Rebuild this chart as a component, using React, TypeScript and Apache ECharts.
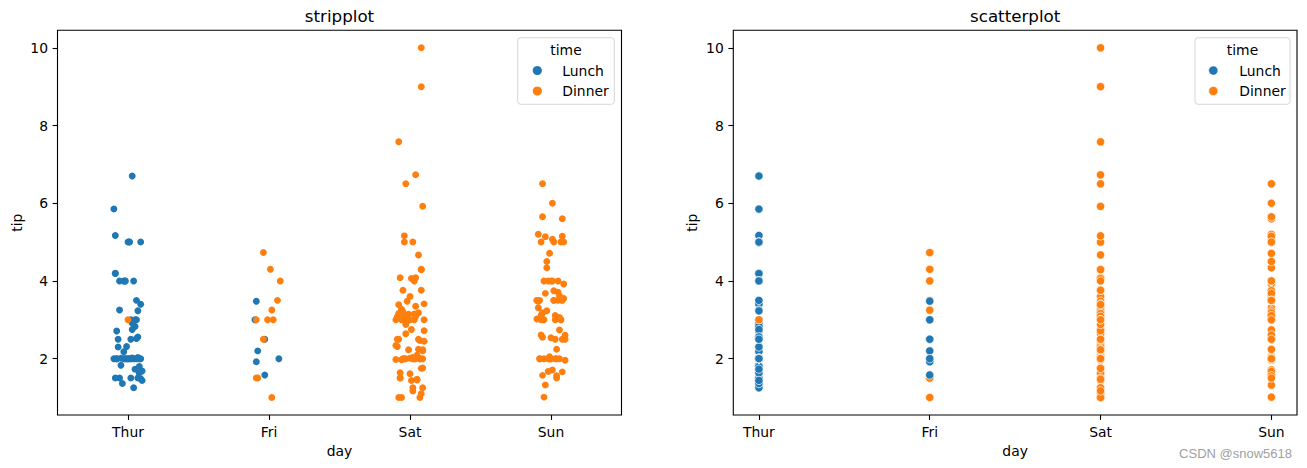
import React, { useEffect, useRef } from "react";
import * as echarts from "echarts";

const DAYS = ["Thur", "Fri", "Sat", "Sun"];
const Y_TICKS = [2, 4, 6, 8, 10];
const BLUE = "#1f77b4";
const ORANGE = "#ff7f0e";

// tip values (seaborn "tips" dataset) grouped by day and time
const thurLunch = [
  4.0, 3.0, 2.71, 3.0, 3.4, 1.83, 5.0, 2.03, 5.17, 2.0, 4.0, 5.85, 3.0,
  1.5, 1.8, 2.92, 2.31, 1.68, 2.5, 2.0, 2.52, 4.2, 1.48, 2.0, 2.0, 2.18, 1.5, 2.83, 1.5, 2.0, 3.25, 1.25,
  2.0, 2.0, 2.0, 2.75, 3.5, 6.7, 5.0, 5.0, 2.3, 1.5, 1.36, 1.63, 1.73, 2.0,
  4.19, 2.56, 2.02, 4.0, 1.44, 2.0, 5.0, 2.0, 2.0, 4.0, 2.01, 2.0, 2.5, 4.0, 3.23,
];
const thurDinner = [3.0];
const friDinner = [3.0, 3.5, 1.0, 4.3, 3.25, 4.73, 4.0, 1.5, 3.0, 1.5, 2.5, 3.0];
const friLunch = [2.2, 3.48, 1.92, 3.0, 1.58, 2.5, 2.0];
const satDinner = [
  3.35, 4.08, 2.75, 2.23, 7.58, 3.18, 2.34, 2.0, 2.0, 4.3, 3.0, 1.45, 2.5, 3.0, 2.45, 3.27, 3.6, 2.0, 3.07, 2.31, 5.0, 2.24,
  3.0, 1.5, 1.76, 6.73, 3.21, 2.0, 1.98, 3.76, 2.64, 3.15, 2.47, 1.0, 2.01, 2.09, 1.97, 3.0, 3.14, 5.0, 2.2, 1.25, 3.08,
  2.5, 3.48, 4.08, 1.64, 4.06, 4.29, 3.76, 4.0, 3.0, 1.0,
  1.61, 2.0, 10.0, 3.16,
  3.41, 3.0, 2.03, 2.23, 2.0, 5.16, 9.0, 2.5, 6.5, 1.1, 3.0, 1.5, 1.44, 3.09,
  3.0, 2.72, 2.88, 2.0, 3.0, 3.39, 1.47, 3.0, 1.25, 1.0, 1.17, 4.67, 5.92, 2.0, 2.0, 1.75,
];
const sunDinner = [
  1.01, 1.66, 3.5, 3.31, 3.61, 4.71, 2.0, 3.12, 1.96, 3.23, 1.71, 5.0, 1.57, 3.0, 3.02, 3.92, 1.67, 3.71, 3.5,
  2.54, 3.06, 1.32, 5.6, 3.0, 5.0, 6.0, 2.05, 3.0, 2.5, 2.6, 5.2, 1.56, 4.34, 3.51,
  4.0, 2.55, 4.0, 3.5, 5.07,
  2.5, 2.0, 2.74, 2.0, 2.0, 5.14, 5.0, 3.75, 2.61, 2.0, 3.5, 2.5, 2.0, 2.0, 3.0, 3.48, 2.24, 4.5,
  5.15, 3.18, 4.0, 3.11, 2.0, 2.0, 4.0, 3.55, 3.68, 5.65, 3.5, 6.5, 3.0, 5.0, 3.5, 2.0, 3.5, 4.0, 1.5,
];

// strip-plot horizontal jitter, in hundredths of a category width
const thurLunchJit = [
  -3, 6, -8, 2, 9, -5, 1, 7, -9, 4, -2, -10, 5, -6, 8, 3, -1, 10, -7, 0,
  6, -9, 9, -8, 2, -3, 7, 5, -9, 1, -6, 4, 8, -2, -10, 3, 6, 3, 9, 0,
  -7, 2, -4, 8, 5, -1, -9, 7, 3, -6, 10, -3, 1, 6, -8, 4, -5, 9, 2, -2, 7,
];
const thurDinnerJit = [0];
const friDinnerJit = [-9, 6, 2, 1, 2, -4, 8, -8, -1, -9, -4, 3];
const friLunchJit = [-8, -9, -9, -10, -3, -3, 7];
const satDinnerJit = [
  4, -7, 1, 9, -8, 6, -10, 2, -5, 8, -1, 5, -8, 3, 10, -6, 0, 7, -4, -9,
  2, 6, -2, -7, 9, 4, -5, 4, -10, 8, -3, 3, 7, -8, 0, 5, -6, 10, -1, -4,
  9, 2, -9, 6, -2, 4, -7, 1, 8, -5, 3, -10, 7, 0, -3, 8, -8, 10, -6, 2,
  -1, 9, -4, 8, -9, -3, 8, -2, -7, 1, 4, -5, 10, -3, 7, 0, -8, 5, -1, 9,
  -6, 2, 6, 9, 3, -4, 8,
];
const sunDinnerJit = [
  -5, 8, 2, -9, 6, -1, 4, -7, 10, -3, 1, 7, -6, 3, -10, 9, -2, 5, -8, 0,
  6, -4, 8, -7, 2, 1, -1, -5, 3, 10, -9, 4, -3, 7, 0, -6, 5, -10, 1, 8,
  -2, 6, -8, 3, -4, 9, 2, -7, -1, 5, 10, -5, 0, 7, -9, 4, -3, 8, -6, 1,
  3, -8, 6, -2, 9, -4, -6, -10, -6, 7, -7, 2, -1, 8, -5, 4,
];

const FONT = "DejaVu Sans";

function strip(day: number, tips: number[], jit: number[]) {
  return tips.map((t, i) => [day + jit[i] / 100, t]);
}
function column(day: number, tips: number[]) {
  return tips.map((t) => [day, t]);
}

const GRIDS = [
  { left: 57.5, top: 30.3, width: 564, height: 384.7 },
  { left: 733.3, top: 30.3, width: 563.7, height: 384.7 },
];

function xAxisFor(idx: number, min: number, max: number) {
  return {
    type: "value",
    gridIndex: idx,
    min,
    max,
    name: "day",
    nameLocation: "middle",
    nameGap: 29,
    nameTextStyle: { fontFamily: FONT, fontSize: 13.9, color: "#000" },
    axisLine: { show: false, onZero: false },
    splitLine: { show: false },
    axisTick: { show: true, length: 4.9, lineStyle: { color: "#000", width: 1.1 }, customValues: [0, 1, 2, 3] },
    axisLabel: {
      show: true,
      margin: 9.5,
      customValues: [0, 1, 2, 3],
      formatter: (v: number) => DAYS[Math.round(v)] ?? "",
      fontFamily: FONT,
      fontSize: 13.9,
      color: "#000",
    },
  };
}
function yAxisFor(idx: number) {
  return {
    type: "value",
    gridIndex: idx,
    min: 0.55,
    max: 10.45,
    name: "tip",
    nameLocation: "middle",
    nameGap: 34,
    nameRotate: 90,
    nameTextStyle: { fontFamily: FONT, fontSize: 13.9, color: "#000" },
    axisLine: { show: false, onZero: false },
    splitLine: { show: false },
    axisTick: { show: true, length: 4.9, lineStyle: { color: "#000", width: 1.1 }, customValues: Y_TICKS },
    axisLabel: {
      show: true,
      margin: 9.5,
      customValues: Y_TICKS,
      fontFamily: FONT,
      fontSize: 13.9,
      color: "#000",
    },
  };
}

function legendGraphics(boxX: number, boxW: number, markerX: number, textX: number, withEdge: boolean) {
  const top = 37.7;
  const h = 66.6;
  const items: any[] = [
    {
      type: "rect",
      shape: { x: boxX, y: top, width: boxW, height: h, r: 3 },
      style: { fill: "rgba(255,255,255,0.8)", stroke: "rgba(204,204,204,0.8)", lineWidth: 1 },
      z: 100,
    },
    {
      type: "text",
      x: boxX + boxW / 2,
      y: 49.5,
      style: { text: "time", fontFamily: FONT, fontSize: 13.9, fill: "#000", align: "center", verticalAlign: "middle" },
      z: 101,
    },
  ];
  const rows = [
    { label: "Lunch", color: BLUE, y: 70.5 },
    { label: "Dinner", color: ORANGE, y: 91 },
  ];
  rows.forEach((r) => {
    items.push({
      type: "circle",
      shape: { cx: markerX, cy: r.y, r: 4.6 },
      style: { fill: r.color, stroke: withEdge ? "#fff" : r.color, lineWidth: withEdge ? 0.6 : 0 },
      z: 101,
    });
    items.push({
      type: "text",
      x: textX,
      y: r.y,
      style: { text: r.label, fontFamily: FONT, fontSize: 13.9, fill: "#000", align: "left", verticalAlign: "middle" },
      z: 101,
    });
  });
  return items;
}

export default function App() {
  const ref = useRef<HTMLDivElement>(null);
  useEffect(() => {
    if (!ref.current) return;
    const chart = echarts.init(ref.current, null, { renderer: "svg" });
    const stripStyle = (c: string) => ({ color: c, opacity: 1 });
    const scatStyle = (c: string) => ({ color: c, borderColor: "#fff", borderWidth: 0.7, opacity: 1 });
    chart.setOption({
      animation: false,
      backgroundColor: "#fff",
      title: [
        {
          text: "stripplot",
          left: GRIDS[0].left + GRIDS[0].width / 2,
          top: 7,
          textAlign: "center",
          padding: 0,
          textStyle: { fontFamily: FONT, fontSize: 16.7, fontWeight: "normal", color: "#000" },
        },
        {
          text: "scatterplot",
          left: GRIDS[1].left + GRIDS[1].width / 2,
          top: 7,
          textAlign: "center",
          padding: 0,
          textStyle: { fontFamily: FONT, fontSize: 16.7, fontWeight: "normal", color: "#000" },
        },
      ],
      grid: GRIDS.map((g) => ({ ...g, show: true, borderColor: "#000", borderWidth: 1.1, backgroundColor: "#fff", containLabel: false })),
      xAxis: [xAxisFor(0, -0.5, 3.5), xAxisFor(1, -0.15, 3.15)],
      yAxis: [yAxisFor(0), yAxisFor(1)],
      series: [
        {
          name: "Lunch",
          type: "scatter",
          xAxisIndex: 0,
          yAxisIndex: 0,
          symbolSize: 6.9,
          itemStyle: stripStyle(BLUE),
          data: [...strip(0, thurLunch, thurLunchJit), ...strip(1, friLunch, friLunchJit)],
        },
        {
          name: "Dinner",
          type: "scatter",
          xAxisIndex: 0,
          yAxisIndex: 0,
          symbolSize: 6.9,
          itemStyle: stripStyle(ORANGE),
          data: [
            ...strip(0, thurDinner, thurDinnerJit),
            ...strip(1, friDinner, friDinnerJit),
            ...strip(2, satDinner, satDinnerJit),
            ...strip(3, sunDinner, sunDinnerJit),
          ],
        },
        {
          name: "Dinner",
          type: "scatter",
          xAxisIndex: 1,
          yAxisIndex: 1,
          symbolSize: 8.3,
          itemStyle: scatStyle(ORANGE),
          data: [...column(3, sunDinner), ...column(2, satDinner), ...column(1, friDinner)],
        },
        {
          name: "Lunch",
          type: "scatter",
          xAxisIndex: 1,
          yAxisIndex: 1,
          symbolSize: 8.3,
          itemStyle: scatStyle(BLUE),
          data: [...column(0, thurLunch), ...column(1, friLunch)],
        },
        {
          name: "Dinner",
          type: "scatter",
          xAxisIndex: 1,
          yAxisIndex: 1,
          symbolSize: 8.3,
          itemStyle: scatStyle(ORANGE),
          data: column(0, thurDinner),
        },
      ],
      graphic: [
        ...legendGraphics(517.7, 96.6, 537.3, 562.3, false),
        ...legendGraphics(1195, 95, 1213.3, 1239.3, true),
        {
          type: "text",
          x: 1292,
          y: 453,
          style: {
            text: "CSDN @snow5618",
            fontFamily: "Liberation Sans",
            fontSize: 13,
            fill: "#a0a0a0",
            align: "right",
            verticalAlign: "middle",
          },
          z: 101,
        },
      ],
    });
    return () => chart.dispose();
  }, []);
  return <div ref={ref} style={{ position: "absolute", left: 0, top: 0, width: 1307, height: 468 }} />;
}
